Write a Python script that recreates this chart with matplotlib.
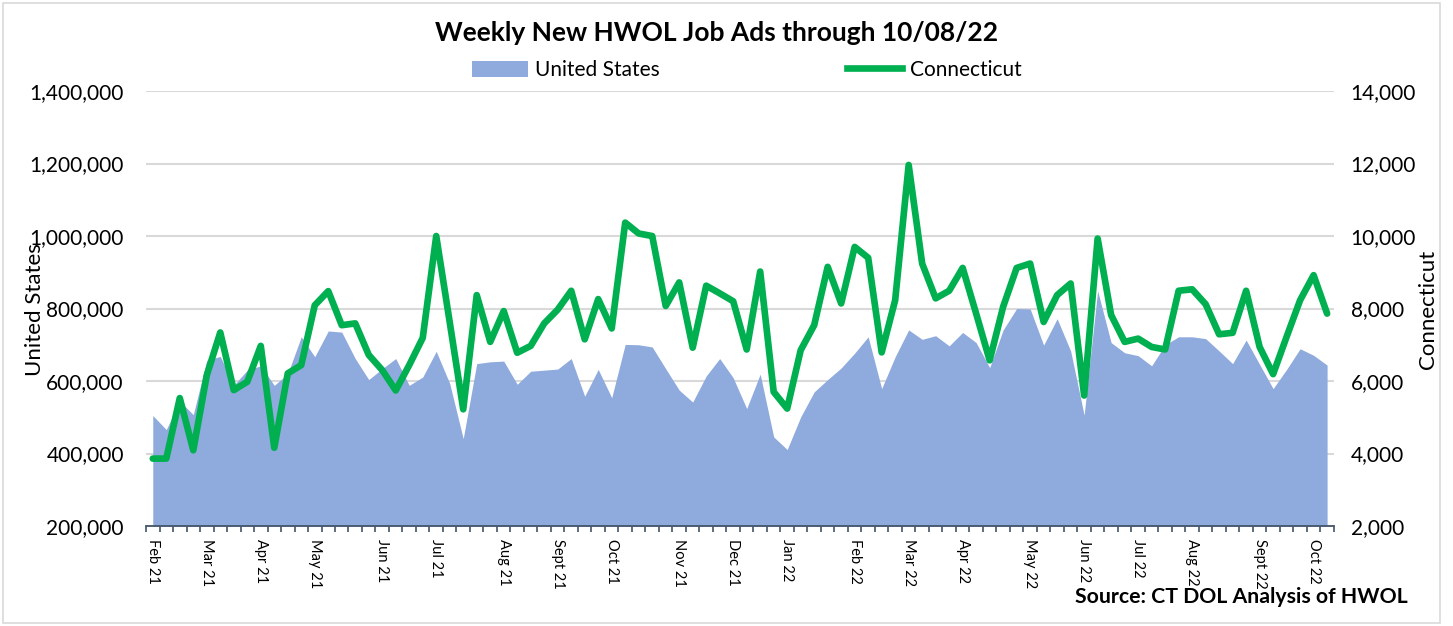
import matplotlib
matplotlib.use("Agg")
import matplotlib.pyplot as plt
from matplotlib.patches import Patch, Rectangle
from matplotlib.lines import Line2D
from matplotlib.ticker import FuncFormatter, MultipleLocator
import numpy as np

plt.rcParams['font.family'] = ['Lato', 'DejaVu Sans']

# weekly new job ads, week 0 = first week of Feb 2021, last = week ending 10/08/22
us_ads = [505000, 466000, 545000, 507000, 657000, 668000, 588000, 630000, 642000, 588000,
          620000, 722000, 667000, 738000, 735000, 662000, 604000, 634000, 662000, 588000,
          611000, 682000, 593000, 441000, 648000, 653000, 655000, 591000, 627000, 630000,
          633000, 662000, 558000, 632000, 554000, 701000, 700000, 694000, 634000, 575000,
          542000, 614000, 662000, 609000, 524000, 619000, 446000, 411000, 501000, 570000,
          604000, 636000, 677000, 722000, 579000, 667000, 741000, 715000, 725000, 697000,
          734000, 706000, 637000, 741000, 800000, 799000, 699000, 772000, 683000, 506000,
          849000, 706000, 678000, 670000, 642000, 700000, 722000, 722000, 717000, 683000,
          648000, 713000, 646000, 579000, 632000, 689000, 671000, 644000]

ct_ads = [3860, 3860, 5530, 4090, 6160, 7340, 5750, 5980, 6970, 4160,
          6210, 6440, 8090, 8480, 7540, 7590, 6720, 6300, 5740, 6440,
          7190, 10000, 7620, 5220, 8370, 7080, 7930, 6780, 6970, 7590,
          7970, 8490, 7150, 8260, 7450, 10370, 10070, 10000, 8070, 8720,
          6920, 8630, 8420, 8200, 6870, 9020, 5700, 5240, 6850, 7540,
          9150, 8140, 9700, 9400, 6790, 8230, 11960, 9240, 8280, 8490,
          9120, 7860, 6570, 8050, 9120, 9240, 7630, 8370, 8690, 5600,
          9930, 7820, 7080, 7170, 6940, 6870, 8490, 8530, 8120, 7290,
          7330, 8490, 6940, 6190, 7220, 8230, 8920, 7860]

# first week of each month (week index) and its label
month_weeks = [0, 4, 8, 12, 17, 21, 26, 30, 34, 39, 43,
               47, 52, 56, 60, 65, 69, 73, 77, 82, 86]
month_labels = ["Feb 21", "Mar 21", "Apr 21", "May 21", "Jun 21", "Jul 21", "Aug 21",
                "Sept 21", "Oct 21", "Nov 21", "Dec 21", "Jan 22", "Feb 22", "Mar 22",
                "Apr 22", "May 22", "Jun 22", "Jul 22", "Aug 22", "Sept 22", "Oct 22"]

blue = "#8faadc"
green = "#00b050"
axis_col = "#44546a"

weeks = np.arange(len(us_ads))

fig = plt.figure(figsize=(14.53, 6.26), dpi=100)
ax = fig.add_axes([0.1005, 0.1597, 0.8175, 0.6949])
ax2 = ax.twinx()

ax.fill_between(weeks, 200000, us_ads, color=blue, lw=0, zorder=2)
ax2.plot(weeks, ct_ads, color=green, lw=4.8, solid_joinstyle='round',
         solid_capstyle='round', zorder=3)

ax.set_xlim(-0.5, len(us_ads) - 0.5)
ax.set_ylim(200000, 1400000)
ax2.set_ylim(2000, 14000)
ax.yaxis.set_major_locator(MultipleLocator(200000))
ax2.yaxis.set_major_locator(MultipleLocator(2000))
ax.yaxis.set_major_formatter(FuncFormatter(lambda v, p: f"{int(v):,}"))
ax2.yaxis.set_major_formatter(FuncFormatter(lambda v, p: f"{int(v):,}"))

ax.set_axisbelow(True)
ax.grid(axis='y', color='#d9d9d9', lw=1.5, zorder=0)

for a in (ax, ax2):
    for s in ('top', 'left', 'right', 'bottom'):
        a.spines[s].set_visible(False)
ax.spines['bottom'].set_visible(True)
ax.spines['bottom'].set_color(axis_col)
ax.spines['bottom'].set_linewidth(1.3)

# category boundary ticks, labels at category centres
ax.set_xticks(np.arange(-0.5, len(us_ads), 1.0))
ax.set_xticks(month_weeks, minor=True)
ax.set_xticklabels([])
ax.set_xticklabels(month_labels, minor=True, rotation=-90, fontsize=10.5)
ax.tick_params(axis='x', which='major', length=4, width=1.2, color=axis_col)
ax.tick_params(axis='x', which='minor', length=0, pad=9)

ax.tick_params(axis='y', length=0, labelsize=15, pad=16)
ax2.tick_params(axis='y', length=0, labelsize=15, pad=12)

fig.text(0.024, 0.505, "United States", rotation=90, fontsize=16, ha='center', va='center')
fig.text(0.983, 0.505, "Connecticut", rotation=90, fontsize=16, ha='center', va='center')

fig.text(0.4935, 0.947, "Weekly New HWOL Job Ads through 10/08/22", fontsize=19,
         fontweight='bold', ha='center', va='center')
fig.text(0.969, 0.046, "Source: CT DOL Analysis of HWOL", fontsize=15.3,
         fontweight='bold', ha='right', va='center')

handles = [Patch(facecolor=blue, edgecolor='none'),
           Line2D([0], [0], color=green, lw=4.8)]
fig.legend(handles, ["United States", "Connecticut"], loc='center', ncol=2,
           bbox_to_anchor=(0.514, 0.888), frameon=False, fontsize=15,
           handlelength=2.65, handleheight=0.85, handletextpad=0.35, columnspacing=9)

fig.patches.append(Rectangle((0.002, 0.004), 0.989, 0.992, transform=fig.transFigure,
                             fill=False, edgecolor='#d9d9d9', lw=1.2))

fig.savefig("out.png", dpi=100)
